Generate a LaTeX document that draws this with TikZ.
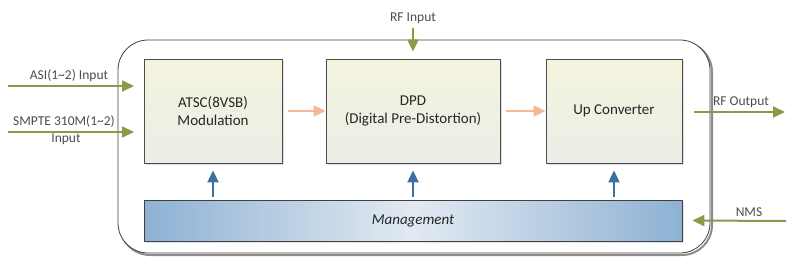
\documentclass[tikz,border=0pt]{standalone}
\usepackage{fontspec}
\setmainfont{Carlito}
\usetikzlibrary{arrows.meta,shadows}
\definecolor{grn}{HTML}{8A9A48}
\definecolor{org}{HTML}{F4B896}
\definecolor{blu}{HTML}{3D6FA3}
\definecolor{boxtop}{HTML}{F3F3DE}
\definecolor{boxbot}{HTML}{EDEDE7}
\definecolor{mgedge}{HTML}{8EB1D3}
\definecolor{mgmid}{HTML}{E2EAF2}
\tikzset{
  blockbox/.style={draw=black!70, line width=0.8pt, top color=boxtop, bottom color=boxbot,
     minimum width=#1, minimum height=104pt, inner sep=0pt, align=center,
     font=\fontsize{15}{18}\selectfont, text=black!85,
     drop shadow={opacity=0.25,shadow xshift=1.5pt,shadow yshift=-1.5pt}},
  garrow/.style={draw=grn, line width=2pt, -{Triangle[width=11pt,length=12pt]}},
  oarrow/.style={draw=org, line width=2pt, -{Triangle[width=11pt,length=12pt]}},
  barrow/.style={draw=blu, line width=2pt, -{Triangle[width=11pt,length=12pt]}},
  lbl/.style={font=\fontsize{13.5}{16}\selectfont, text=black!70, inner sep=1pt},
}
\begin{document}
\begin{tikzpicture}[x=1pt,y=-1pt]
\useasboundingbox (0,0) rectangle (796,266);
% outer
\draw[black!45, line width=2pt, rounded corners=30pt] (120,42) rectangle (712,255);
\draw[black!75, line width=0.8pt, fill=white, rounded corners=30pt] (118,40) rectangle (710,253);
% blocks
\node[blockbox=138pt] (atsc) at (213,111) {ATSC(8VSB)\\Modulation};
\node[blockbox=174pt] (dpd) at (413,111) {DPD\\(Digital Pre-Distortion)};
\node[blockbox=136pt] (up) at (614,111) {Up Converter};
\node[draw=black!75, line width=0.8pt, minimum width=538pt, minimum height=41pt, inner sep=0pt,
  left color=mgedge, right color=mgedge, middle color=mgmid,
  font=\itshape\fontsize{15}{18}\selectfont, text=black!85,
  drop shadow={opacity=0.2,shadow xshift=1.5pt,shadow yshift=-1.5pt}] (mg) at (413,220.5) {Management};
% orange
\draw[oarrow] ([xshift=6pt]atsc.east) -- (dpd.west);
\draw[oarrow] ([xshift=6pt]dpd.east) -- (up.west);
% blue
\draw[barrow] ([yshift=3pt]mg.north -| atsc.south) -- ([yshift=-7pt]atsc.south);
\draw[barrow] ([yshift=3pt]mg.north -| dpd.south) -- ([yshift=-7pt]dpd.south);
\draw[barrow] ([yshift=3pt]mg.north -| up.south) -- ([yshift=-7pt]up.south);
% inputs
\coordinate (asiS) at (8,86);
\coordinate (asiE) at (134,86);
\draw[garrow] (asiS) -- (asiE);
\node[lbl, anchor=south] (asil) at (69,83) {ASI(1\textasciitilde2) Input};
\coordinate (smS) at (8,132);
\coordinate (smE) at (134,132);
\draw[garrow] (smS) -- (smE);
\node[lbl, anchor=south] (sml) at (64,129) {SMPTE 310M(1\textasciitilde2)};
\node[lbl, anchor=north] (sml2) at (66,133) {Input};
\coordinate (rfiS) at (413,28);
\draw[garrow] (rfiS) -- ([yshift=7pt]dpd.north);
\node[lbl] (rfil) at (413,18) {RF Input};
\coordinate (rfoS) at (694,112);
\coordinate (rfoE) at (785,112);
\draw[garrow] (rfoS) -- (rfoE);
\node[lbl, anchor=south] (rfol) at (741,109) {RF Output};
\coordinate (nmsS) at (786,221);
\draw[garrow] (nmsS) -- ([xshift=10pt]mg.east);
\node[lbl, anchor=south] (nmsl) at (749,218) {NMS};
\end{tikzpicture}
\end{document}
